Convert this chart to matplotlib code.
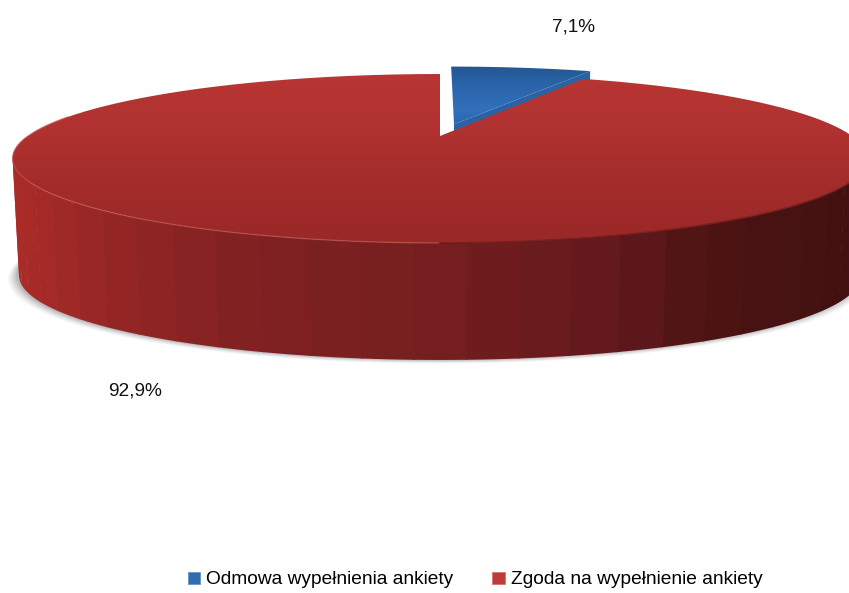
import numpy as np
import matplotlib
matplotlib.use('Agg')
import matplotlib.pyplot as plt
from matplotlib.colors import LinearSegmentedColormap
from matplotlib.patches import Patch, PathPatch, Polygon
from matplotlib.path import Path

plt.rcParams['font.family'] = ['Liberation Sans', 'DejaVu Sans']

# dane
categories = ['Odmowa wypełnienia ankiety', 'Zgoda na wypełnienie ankiety']
shares = [7.1, 92.9]
value_labels = ['7,1%', '92,9%']

# geometria rzutu tarczy (piksele)
x0, y0 = 440, 136
cx, persp = 412, 0.266
by = 78.5
depth = 117
explode = 0.16


def project(u, v, dy=0.0, scale=1.0):
    w = 1 + persp * v
    return x0 + cx * scale * u / w, y0 + dy - by * v / w


def rim(a1, a2, n=300):
    # katy liczone od godziny 12, zgodnie z ruchem wskazowek
    t = np.radians(np.linspace(a1, a2, n))
    return np.sin(t), np.cos(t)


def gradient(ax, path, colors, y1, y2, zorder):
    cmap = LinearSegmentedColormap.from_list('g', np.array(colors) / 255)
    im = ax.imshow(np.linspace(0, 1, 256).reshape(-1, 1), cmap=cmap, aspect='auto',
                   extent=(0, 849, y2, y1), zorder=zorder)
    im.set_clip_path(PathPatch(path, transform=ax.transData))


fig = plt.figure(figsize=(8.49, 5.93), dpi=100)
ax = fig.add_axes([0, 0, 1, 1])

angle_blue = 360 * shares[0] / sum(shares)

# cien pod tarcza
u, v = rim(0, 360)
sx, sy = project(u, v, dy=depth, scale=0.985)
for grow, alpha in zip([9, 7, 5, 3, 1], [0.05, 0.07, 0.09, 0.11, 0.14]):
    ax.add_patch(Polygon(np.c_[(sx - 436) * (1 + grow / 415) + 436 - 2, sy + grow * 0.4],
                         fc='#50505a', ec='none', alpha=alpha, zorder=1))

# kawalek niebieski (wysuniety)
mid = np.radians(angle_blue / 2)
du, dv = explode * np.sin(mid), explode * np.cos(mid)
u, v = rim(0, angle_blue, 60)
bx, by_ = project(np.r_[0, u] + du, np.r_[0, v] + dv)
# scianka niebieska pod lica - wypelnia szczeline do czerwonej krawedzi
ax.add_patch(Polygon(np.c_[[bx[0], bx[-1], bx[-1], bx[0]],
                           [by_[0], by_[-1], by_[-1] + 14, by_[0] + 14]],
                     fc='#2a62a4', ec='none', zorder=2))
blue_path = Path(np.c_[np.r_[bx, bx[0]], np.r_[by_, by_[0]]])
gradient(ax, blue_path, [(33, 84, 140), (42, 100, 170), (50, 112, 188), (42, 100, 168)],
         62, 132, 3)

# scianka czerwona - pasy
wall_x = [13, 100, 250, 430, 600, 700, 849]
wall_r = [170, 150, 128, 118, 100, 78, 66]
wall_g = [44, 38, 33, 30, 25, 20, 16]
wall_b = [40, 36, 34, 32, 28, 20, 16]

edges = np.linspace(90, 270, 34)
for a1, a2 in zip(edges[:-1], edges[1:]):
    u, v = rim(a1 - 0.1, a2 + 0.1, 30)
    tx, ty = project(u, v)
    lx, ly = project(u, v, dy=depth, scale=0.985)
    xm = tx.mean()
    col = (np.interp(xm, wall_x, wall_r) / 255, np.interp(xm, wall_x, wall_g) / 255,
           np.interp(xm, wall_x, wall_b) / 255)
    ax.add_patch(Polygon(np.c_[np.r_[tx, lx[::-1]], np.r_[ty, ly[::-1]]], fc=col, ec='none', zorder=4))

# gorna powierzchnia czerwona
u, v = rim(angle_blue, 360, 500)
tx, ty = project(u, v)
red_path = Path(np.c_[np.r_[x0, tx, x0], np.r_[y0, ty, y0]])
gradient(ax, red_path, [(184, 54, 52), (176, 50, 48), (162, 44, 42), (154, 40, 40)], 72, 245, 5)

# krawedz tarczy
u, v = rim(180, 285, 120)
ex, ey = project(u, v)
ax.plot(ex, ey, color='#c25a50', lw=1, alpha=0.6, zorder=6)
u, v = rim(95, 180, 120)
ex, ey = project(u, v)
ax.plot(ex, ey, color='#6e1a18', lw=1.2, alpha=0.8, zorder=6)

# etykiety wartosci
ax.text(574, 27, value_labels[0], ha='center', va='center', fontsize=13.6, color='#111111')
ax.text(135, 391, value_labels[1], ha='center', va='center', fontsize=13.8, color='#111111')

ax.set_xlim(0, 849)
ax.set_ylim(593, 0)
ax.axis('off')

handles = [Patch(fc='#2f6cb0', ec='#5a8cc4', lw=0.5), Patch(fc='#c03a38', ec='#d26a66', lw=0.5)]
ax.legend(handles, categories, ncol=2, frameon=False, fontsize=13.8,
          loc='center', bbox_to_anchor=(475 / 849, 1 - 580 / 593),
          handlelength=0.65, handleheight=0.6, handletextpad=0.3, columnspacing=2.05,
          labelspacing=0, borderpad=0)

fig.savefig('out.png', dpi=100)
